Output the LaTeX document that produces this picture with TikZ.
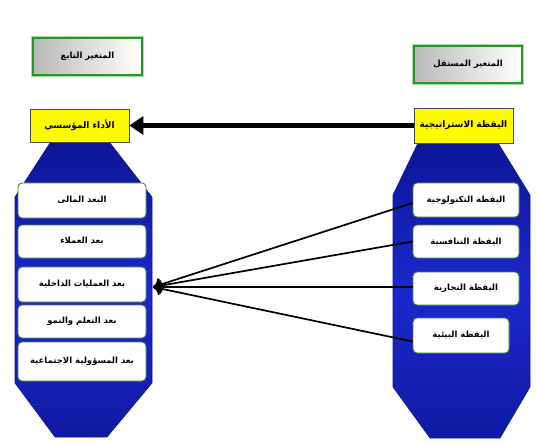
\documentclass[tikz,border=0pt]{standalone}
\usepackage{fontspec}
\usetikzlibrary{arrows.meta}
\newfontfamily\arabicfont[Script=Arabic]{DejaVu Sans Bold}
\TeXXeTstate=1
\definecolor{octblue}{RGB}{28,40,205}
\definecolor{octdark}{RGB}{12,22,150}
\definecolor{boxgreen}{RGB}{70,130,70}
\definecolor{hdrgreen}{RGB}{40,150,40}
\definecolor{glow}{RGB}{170,220,170}
\definecolor{yel}{RGB}{255,250,0}
\newcommand{\ar}[1]{\arabicfont\beginR #1\endR}
\begin{document}
\begin{tikzpicture}[x=1pt,y=-1pt,
  octa/.style={top color=octdark,bottom color=octdark!80!octblue,middle color=octblue,draw=octdark,line width=0.6pt},
  dimbox/.style={rectangle,rounded corners=4pt,fill=white,draw=boxgreen,line width=0.9pt,font=\fontsize{8.5}{9}\selectfont,inner sep=1pt},
  hdrbox/.style={rectangle,left color=gray!55,right color=white,draw=hdrgreen,line width=1.4pt,font=\fontsize{8.5}{9}\selectfont,inner sep=1pt},
  yelbox/.style={rectangle,fill=yel,draw=black!70,line width=0.8pt,font=\fontsize{9}{10}\selectfont,inner sep=1pt},
  link/.style={line width=1.7pt,-{To[length=8pt,width=14pt]}},
  bigarrow/.style={line width=5pt,-{Triangle[length=14pt,width=18pt]}}]
\useasboundingbox (0,0) rectangle (537,446);

% octagons
\shade[octa] (50,143) -- (110,143) -- (152,197) -- (152,383) -- (107,437) -- (55,437) -- (15,383) -- (15,197) -- cycle;
\shade[octa] (418,143) -- (498,143) -- (530,195) -- (530,387) -- (500,438) -- (430,438) -- (393,387) -- (393,195) -- cycle;

% header boxes
\draw[glow,line width=4pt] (33,38) rectangle (142,75);
\node[hdrbox,minimum width=109pt,minimum height=37pt] (hl) at (87.5,56.5) {\ar{المتغير التابع}};
\draw[glow,line width=4pt] (414,46) rectangle (522,83);
\node[hdrbox,minimum width=108pt,minimum height=37pt] (hr) at (468,64.5) {\ar{المتغير المستقل}};

% yellow boxes
\node[yelbox,minimum width=99pt,minimum height=33pt] (lp) at (79.5,125.5) {\ar{الأداء المؤسسي}};
\node[yelbox,minimum width=99pt,minimum height=35pt] (rs) at (463.5,125.5) {\ar{اليقظة الاستراتيجية}};

% left dimension boxes
\node[dimbox,minimum width=128pt,minimum height=35pt] (l1) at (82,200.5) {\ar{البعد المالى}};
\node[dimbox,minimum width=128pt,minimum height=33pt] (l2) at (82,241.5) {\ar{بعد العملاء}};
\node[dimbox,minimum width=128pt,minimum height=35pt] (l3) at (82,284.5) {\ar{بعد العمليات الداخلية}};
\node[dimbox,minimum width=128pt,minimum height=33pt] (l4) at (82,321.5) {\ar{بعد التعلم والنمو}};
\node[dimbox,minimum width=128pt,minimum height=39pt] (l5) at (82,361.5) {\ar{بعد المسؤولية الاجتماعية}};

% right boxes
\node[dimbox,minimum width=106pt,minimum height=34pt] (r1) at (466,200) {\ar{اليقظة التكنولوجية}};
\node[dimbox,minimum width=106pt,minimum height=33pt] (r2) at (466,241.5) {\ar{اليقظة التنافسية}};
\node[dimbox,minimum width=106pt,minimum height=33pt] (r3) at (466,288.5) {\ar{اليقظة التجارية}};
\node[dimbox,minimum width=96pt,minimum height=35pt] (r4) at (461,335.5) {\ar{اليقظة البيئية}};

\coordinate (tip) at (153,287);

% connectors
\draw[bigarrow] (rs.west) -- (lp.east);
\draw[link] ([yshift=-3pt]r1.west) -- (tip);
\draw[link] (r2.west) -- (tip);
\draw[link] ([yshift=1.5pt]r3.west) -- (tip);
\draw[link] ([yshift=-6pt]r4.west) -- (tip);
\end{tikzpicture}
\end{document}
